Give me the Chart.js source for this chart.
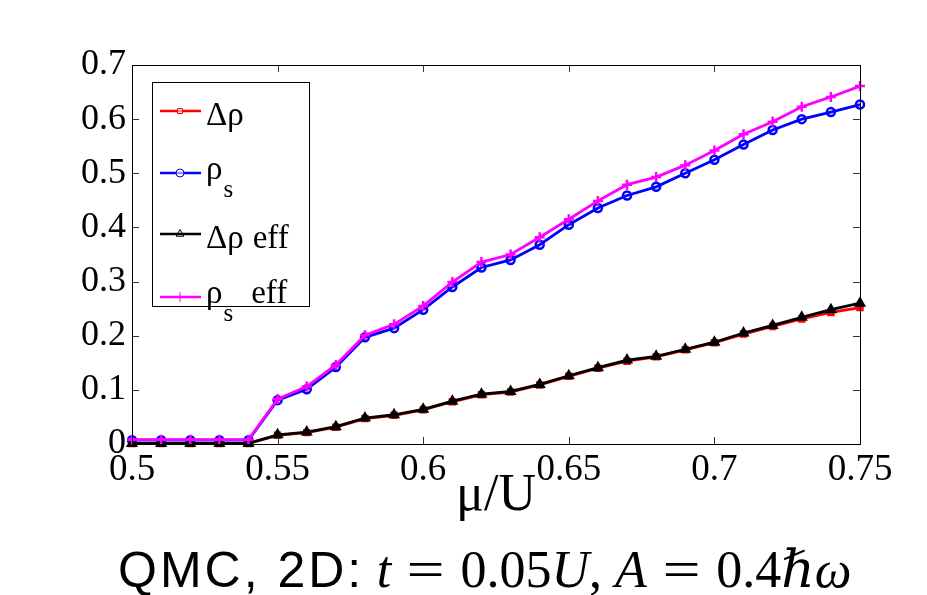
<!DOCTYPE html>
<html>
<head>
<meta charset="utf-8">
<script src="https://cdn.jsdelivr.net/npm/chart.js@4.4.1/dist/chart.umd.min.js"></script>
<style>
  body { margin: 0; background: #fff; }
  #wrap { position: relative; width: 927px; height: 595px; overflow: hidden; }
  #caption {
    position: absolute; left: 118px; top: 540px; white-space: nowrap;
    font-size: 50px; line-height: 60px; color: #000;
  }
  #caption .s { font-family: "Liberation Sans", Arial, sans-serif; letter-spacing: 3px; }
  #caption .m { font-family: "Liberation Serif", "DejaVu Serif", serif; font-size: 52px; }
  #caption i { font-style: italic; }
  #caption .eq { display: inline-block; margin: 0 20px; transform: scaleX(1.3); }
</style>
</head>
<body>
<div id="wrap">
  <canvas id="chart" width="927" height="595"></canvas>
  <div id="caption"><span class="s">QMC, 2D:</span> <span class="m"><i>t</i><span class="eq">=</span>0.05<i>U</i>,&nbsp;<i>A</i><span class="eq">=</span>0.4<i>ℏω</i></span></div>
</div>
<script>
// mu/U values
const mu = [0.50, 0.51, 0.52, 0.53, 0.54, 0.55, 0.56, 0.57, 0.58, 0.59, 0.60, 0.61, 0.62,
            0.63, 0.64, 0.65, 0.66, 0.67, 0.68, 0.69, 0.70, 0.71, 0.72, 0.73, 0.74, 0.75];

const deltaRho = [0.001, 0.001, 0.001, 0.001, 0.001, 0.016, 0.021, 0.031, 0.047, 0.053, 0.063, 0.078, 0.091,
                  0.096, 0.109, 0.125, 0.140, 0.153, 0.161, 0.174, 0.187, 0.203, 0.217, 0.231, 0.243, 0.252];
const rhoS = [0.007, 0.007, 0.007, 0.007, 0.007, 0.081, 0.101, 0.142, 0.197, 0.214, 0.248, 0.290, 0.326,
              0.340, 0.368, 0.405, 0.436, 0.459, 0.475, 0.500, 0.525, 0.553, 0.580, 0.600, 0.613, 0.627];
const deltaRhoEff = [0.001, 0.001, 0.001, 0.001, 0.001, 0.017, 0.022, 0.032, 0.048, 0.054, 0.064, 0.079, 0.092,
                     0.097, 0.110, 0.126, 0.141, 0.155, 0.162, 0.175, 0.188, 0.205, 0.219, 0.234, 0.248, 0.260];
const rhoSEff = [0.008, 0.008, 0.008, 0.008, 0.008, 0.083, 0.106, 0.146, 0.201, 0.221, 0.255, 0.299, 0.336,
                 0.350, 0.382, 0.415, 0.449, 0.479, 0.493, 0.515, 0.542, 0.572, 0.595, 0.623, 0.641, 0.661];

const xTicks = [0.5, 0.55, 0.6, 0.65, 0.7, 0.75];
const yTicks = [0, 0.1, 0.2, 0.3, 0.4, 0.5, 0.6, 0.7];

// legend rows: main text, subscript, tail
const legendMain = ['Δρ', 'ρ', 'Δρ', 'ρ'];
const legendSub = ['', 's', '', 's'];
const legendTail = ['', '', 'eff', 'eff'];

const serif = '"Liberation Serif", "Times New Roman", serif';

function pts(arr) {
    return arr.map((v, i) => ({ x: mu[i], y: v }));
}

const series = [
    { data: deltaRho, color: '#ff0000', style: 'rect', radius: 3.5, order: 4 },
    { data: rhoS, color: '#0000ff', style: 'circle', radius: 4, order: 3 },
    { data: deltaRhoEff, color: '#000000', style: 'triangle', radius: 4.5, order: 2 },
    { data: rhoSEff, color: '#ff00ff', style: 'cross', radius: 5, order: 1 }
];

// inward ticks + box round the plot
const boxTicks = {
    id: 'boxTicks',
    afterDraw(chart) {
        const { ctx, chartArea: a } = chart;
        const xs = chart.scales.x, ys = chart.scales.y;
        ctx.save();
        ctx.strokeStyle = '#333';
        ctx.lineWidth = 1;
        ctx.beginPath();
        xTicks.forEach(t => {
            const x = Math.round(xs.getPixelForValue(t)) + 0.5;
            ctx.moveTo(x, a.bottom); ctx.lineTo(x, a.bottom - 7);
            ctx.moveTo(x, a.top); ctx.lineTo(x, a.top + 7);
        });
        yTicks.forEach(t => {
            const y = Math.round(ys.getPixelForValue(t)) + 0.5;
            ctx.moveTo(a.left, y); ctx.lineTo(a.left + 7, y);
            ctx.moveTo(a.right, y); ctx.lineTo(a.right - 7, y);
        });
        ctx.stroke();
        ctx.strokeStyle = '#000';
        ctx.strokeRect(Math.round(a.left) + 0.5, Math.round(a.top) + 0.5,
                       Math.round(a.right - a.left), Math.round(a.bottom - a.top));
        ctx.restore();
    }
};

// legend with subscripts
const subLegend = {
    id: 'subLegend',
    afterDraw(chart) {
        const ctx = chart.ctx;
        const bx = 152, by = 82, bw = 157, bh = 224;
        const rowY = [111, 173, 234, 297];
        ctx.save();
        ctx.fillStyle = '#fff';
        ctx.fillRect(bx, by, bw, bh);
        ctx.strokeStyle = '#000';
        ctx.lineWidth = 1;
        ctx.strokeRect(bx + 0.5, by + 0.5, bw, bh);
        series.forEach((s, i) => {
            const y = rowY[i];
            ctx.strokeStyle = s.color;
            ctx.lineWidth = 2.5;
            ctx.beginPath();
            ctx.moveTo(160, y); ctx.lineTo(201, y);
            ctx.stroke();
            ctx.lineWidth = 1;
            ctx.fillStyle = s.style === 'triangle' ? 'rgba(0,0,0,0)' : 'rgba(255,255,255,0.6)';
            Chart.helpers.drawPoint(ctx, {
                pointStyle: s.style, radius: s.radius, borderWidth: 1, rotation: 0
            }, 180, y);
            ctx.fillStyle = '#000';
            ctx.textBaseline = 'alphabetic';
            ctx.font = '33px ' + serif;
            const base = legendSub[i] ? y + 6 : y + 14;
            ctx.fillText(legendMain[i], 206, base);
            let x = 206 + ctx.measureText(legendMain[i]).width;
            if (legendSub[i]) {
                ctx.font = '25px ' + serif;
                ctx.fillText(legendSub[i], x + 1, base + 18);
                x += ctx.measureText(legendSub[i]).width + 10;
                ctx.font = '33px ' + serif;
            }
            if (legendTail[i]) ctx.fillText(legendTail[i], x + 9, base);
        });
        ctx.restore();
    }
};

const fmt = v => String(Math.round(v * 100) / 100);

new Chart(document.getElementById('chart'), {
    type: 'line',
    data: {
        datasets: series.map((s, i) => ({
            label: legendMain[i] + legendSub[i] + ' ' + legendTail[i],
            data: pts(s.data),
            borderColor: s.color,
            backgroundColor: 'rgba(0,0,0,0)',
            borderWidth: 2.8,
            pointStyle: s.style,
            pointRadius: s.radius,
            pointBorderWidth: 2.5,
            pointBorderColor: s.color,
            pointBackgroundColor: s.style === 'triangle' ? s.color : 'rgba(0,0,0,0)',
            tension: 0,
            order: s.order,
            clip: false
        }))
    },
    options: {
        responsive: false,
        animation: false,
        devicePixelRatio: 1,
        layout: { padding: { left: 0, top: 65, right: 67, bottom: 51 } },
        plugins: { legend: { display: false }, tooltip: { enabled: false } },
        scales: {
            x: {
                type: 'linear', min: 0.5, max: 0.75,
                afterBuildTicks: sc => { sc.ticks = xTicks.map(v => ({ value: v })); },
                afterFit: sc => { sc.height = 100; },
                grid: { display: false, drawTicks: false },
                border: { display: false },
                ticks: { color: '#000', padding: 4, maxRotation: 0, callback: fmt,
                         font: { family: serif, size: 37 } },
                title: {
                    display: true, text: 'μ/U', color: '#000',
                    font: { family: serif, size: 52 }, padding: { top: 0, bottom: 16 }
                }
            },
            y: {
                min: 0, max: 0.7,
                afterBuildTicks: sc => { sc.ticks = yTicks.map(v => ({ value: v })); },
                afterFit: sc => { sc.width = 132; },
                grid: { display: false, drawTicks: false },
                border: { display: false },
                ticks: { color: '#000', padding: 6, callback: fmt, font: { family: serif, size: 36 } }
            }
        }
    },
    plugins: [boxTicks, subLegend]
});
</script>
</body>
</html>
